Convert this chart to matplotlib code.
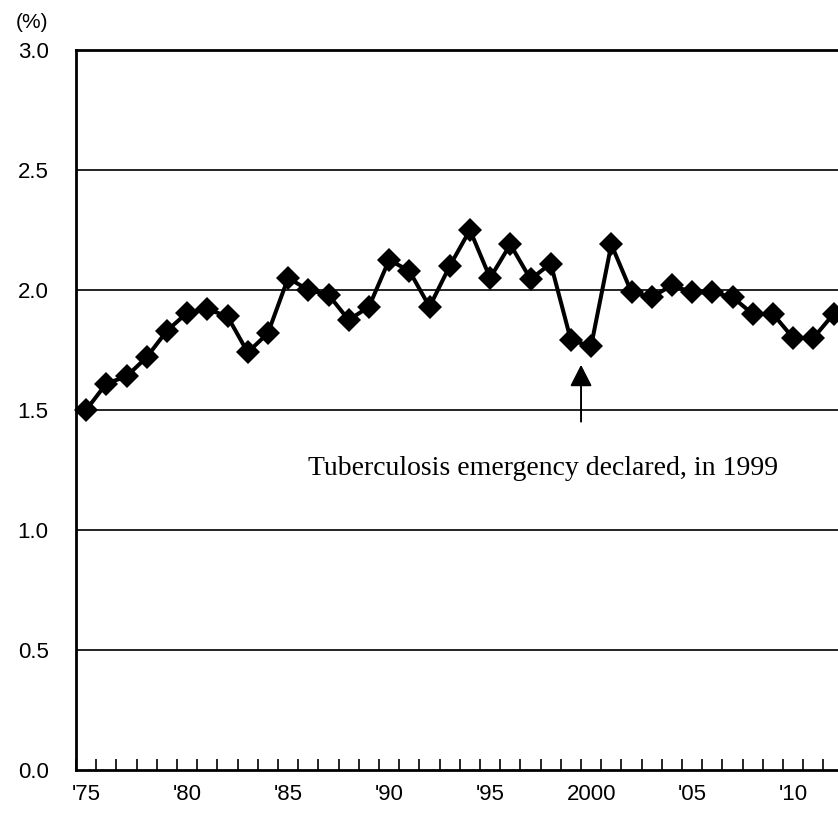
import numpy as np
import matplotlib
matplotlib.use("Agg")
from matplotlib import pyplot as plt
from matplotlib.ticker import FixedLocator

# rate by year
years = list(range(1975, 2013))
rate = [1.50, 1.61, 1.64, 1.72, 1.83, 1.905, 1.92, 1.89, 1.74, 1.82,
        2.05, 2.00, 1.98, 1.875, 1.93, 2.125, 2.08, 1.93, 2.10, 2.25,
        2.05, 2.19, 2.045, 2.11, 1.79, 1.767, 2.19, 1.99, 1.97, 2.02,
        1.99, 1.99, 1.97, 1.90, 1.90, 1.80, 1.80, 1.90]

label_years = [1975, 1980, 1985, 1990, 1995, 2000, 2005, 2010]
label_text = ["'75", "'80", "'85", "'90", "'95", "2000", "'05", "'10"]
y_ticks = [0.0, 0.5, 1.0, 1.5, 2.0, 2.5, 3.0]

note = "Tuberculosis emergency declared, in 1999"

plt.rcParams['font.family'] = ['Liberation Sans', 'DejaVu Sans']

fig = plt.figure(figsize=(8.38, 8.14), dpi=100)
ax = fig.add_axes([76/838, 44/814, 1 - 76/838, 720/814])

for v in y_ticks[1:-1]:
    ax.axhline(v, color='black', lw=1.2, zorder=1)

ax.plot(years, rate, color='black', lw=2.9, marker='D', ms=12,
        markeredgewidth=0, zorder=3, clip_on=False)

ax.set_ylim(0, 3.0)
ax.set_xlim(1974.5, 2012.22)

ax.set_yticks(y_ticks)
ax.set_yticklabels(["%.1f" % v for v in y_ticks], fontsize=16)
ax.tick_params(axis='y', length=0, pad=42)
for lab in ax.get_yticklabels():
    lab.set_horizontalalignment('left')

ax.set_xticks(label_years)
ax.set_xticklabels(label_text, fontsize=16)
ax.tick_params(axis='x', which='major', length=0, pad=10)
ax.xaxis.set_minor_locator(FixedLocator(np.arange(1974.5, 2013, 1.0)))
ax.tick_params(axis='x', which='minor', direction='in', length=8, width=1.2)

for s in ['left', 'bottom', 'top']:
    ax.spines[s].set_linewidth(2)
ax.spines['right'].set_visible(False)

# arrow pointing at the 1999 dip
ax.annotate('', xy=(1999.5, 1.70), xytext=(1999.5, 1.44),
            arrowprops=dict(arrowstyle='-|>,head_length=0.55,head_width=0.28',
                            color='black', lw=1.4, mutation_scale=24))
ax.text(1997.6, 1.255, note, family='Liberation Serif', fontsize=20,
        ha='center', va='center')

fig.text(16/838, 1 - 22/814, "(%)", fontsize=15, ha='left', va='center')

fig.savefig("out.png", dpi=100)
